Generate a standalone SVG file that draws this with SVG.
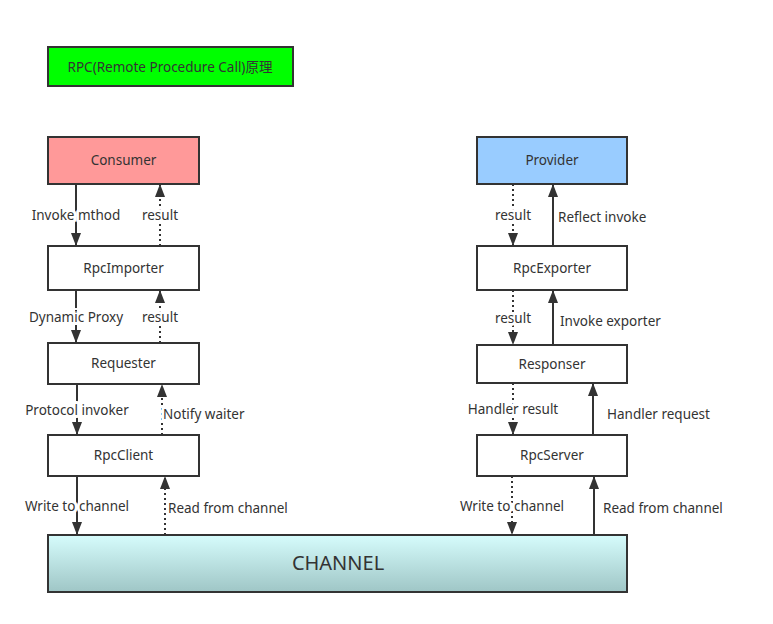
<svg xmlns="http://www.w3.org/2000/svg" width="773" height="624" viewBox="0 0 773 624">
<defs>
<linearGradient id="chg" x1="0" y1="0" x2="0" y2="1">
<stop offset="0" stop-color="#D6FCFC"/>
<stop offset="1" stop-color="#9FC6C6"/>
</linearGradient>
<marker id="ah" viewBox="0 0 13 10" refX="13" refY="5" markerWidth="13" markerHeight="10" markerUnits="userSpaceOnUse" orient="auto">
<path d="M0,0 L13,5 L0,10 Z" fill="#333"/>
</marker>
</defs>
<style>
.box{stroke:#333;stroke-width:2}
.t{font-family:"Microsoft YaHei","Noto Sans","Liberation Sans","Noto Sans CJK SC",sans-serif;font-size:13.5px;fill:#333}
.lbl{font-family:"Microsoft YaHei","Noto Sans","Liberation Sans",sans-serif;font-size:13.5px;fill:#333;stroke:#fff;stroke-width:6px;paint-order:stroke;stroke-linejoin:round}
.c{text-anchor:middle}
.ln{fill:none;stroke:#333;stroke-width:2;marker-end:url(#ah)}
.dt{stroke-dasharray:2 3}
</style>
<rect width="773" height="624" fill="#fff"/>

<g id="title">
<rect class="box" x="48" y="47" width="245" height="39" fill="#00FF00"/>
<text class="t c" x="170" y="71.5">RPC(Remote Procedure Call)原理</text>
</g>

<g id="consumer">
<rect class="box" x="48" y="137" width="151" height="47" fill="#FF9999"/>
<text class="t c" x="123.5" y="165">Consumer</text>
</g>
<g id="rpcimporter">
<rect class="box" x="48" y="246" width="151" height="44" fill="#fff"/>
<text class="t c" x="123.5" y="272.5">RpcImporter</text>
</g>
<g id="requester">
<rect class="box" x="48" y="343" width="151" height="41" fill="#fff"/>
<text class="t c" x="123.5" y="368">Requester</text>
</g>
<g id="rpcclient">
<rect class="box" x="48" y="435" width="151" height="41" fill="#fff"/>
<text class="t c" x="123.5" y="460">RpcClient</text>
</g>

<g id="provider">
<rect class="box" x="477" y="137" width="150" height="47" fill="#99CCFF"/>
<text class="t c" x="552" y="165">Provider</text>
</g>
<g id="rpcexporter">
<rect class="box" x="477" y="246" width="150" height="44" fill="#fff"/>
<text class="t c" x="552" y="272.5">RpcExporter</text>
</g>
<g id="responser">
<rect class="box" x="477" y="345" width="150" height="38" fill="#fff"/>
<text class="t c" x="552" y="368.5">Responser</text>
</g>
<g id="rpcserver">
<rect class="box" x="477" y="435" width="150" height="41" fill="#fff"/>
<text class="t c" x="552" y="460">RpcServer</text>
</g>

<g id="channel">
<rect class="box" x="48" y="535" width="579" height="57" fill="url(#chg)"/>
<text x="338" y="570" text-anchor="middle" font-family="Microsoft YaHei,'Noto Sans','Liberation Sans',sans-serif" font-size="20" fill="#333">CHANNEL</text>
</g>

<g id="connectors">
<path class="ln" d="M76,184 V246"/>
<path class="ln dt" d="M160,246 V184"/>
<path class="ln" d="M76,290 V343"/>
<path class="ln dt" d="M160,343 V290"/>
<path class="ln" d="M77,384 V435"/>
<path class="ln dt" d="M162,435 V384"/>
<path class="ln" d="M77,476 V535"/>
<path class="ln dt" d="M165,535 V476"/>

<path class="ln dt" d="M513,184 V246"/>
<path class="ln" d="M553,246 V184"/>
<path class="ln dt" d="M513,290 V345"/>
<path class="ln" d="M553,345 V290"/>
<path class="ln dt" d="M513,383 V435"/>
<path class="ln" d="M593,435 V383"/>
<path class="ln dt" d="M512,476 V535"/>
<path class="ln" d="M594,535 V476"/>

<text class="lbl c" x="76" y="219.5">Invoke mthod</text>
<text class="lbl c" x="160" y="219.5">result</text>
<text class="lbl c" x="76" y="321.5">Dynamic Proxy</text>
<text class="lbl c" x="160" y="321.5">result</text>
<text class="lbl c" x="77" y="414.5">Protocol invoker</text>
<text class="lbl" x="163" y="418.5">Notify waiter</text>
<text class="lbl c" x="77" y="510.5">Write to channel</text>
<text class="lbl" x="168" y="512.5">Read from channel</text>

<text class="lbl c" x="513" y="219.5">result</text>
<text class="lbl" x="558" y="221.5">Reflect invoke</text>
<text class="lbl c" x="513" y="322.5">result</text>
<text class="lbl" x="560" y="325.5">Invoke exporter</text>
<text class="lbl c" x="513" y="413.5">Handler result</text>
<text class="lbl" x="607" y="418.5">Handler request</text>
<text class="lbl c" x="512" y="510.5">Write to channel</text>
<text class="lbl" x="603" y="512.5">Read from channel</text>
</g>
</svg>
